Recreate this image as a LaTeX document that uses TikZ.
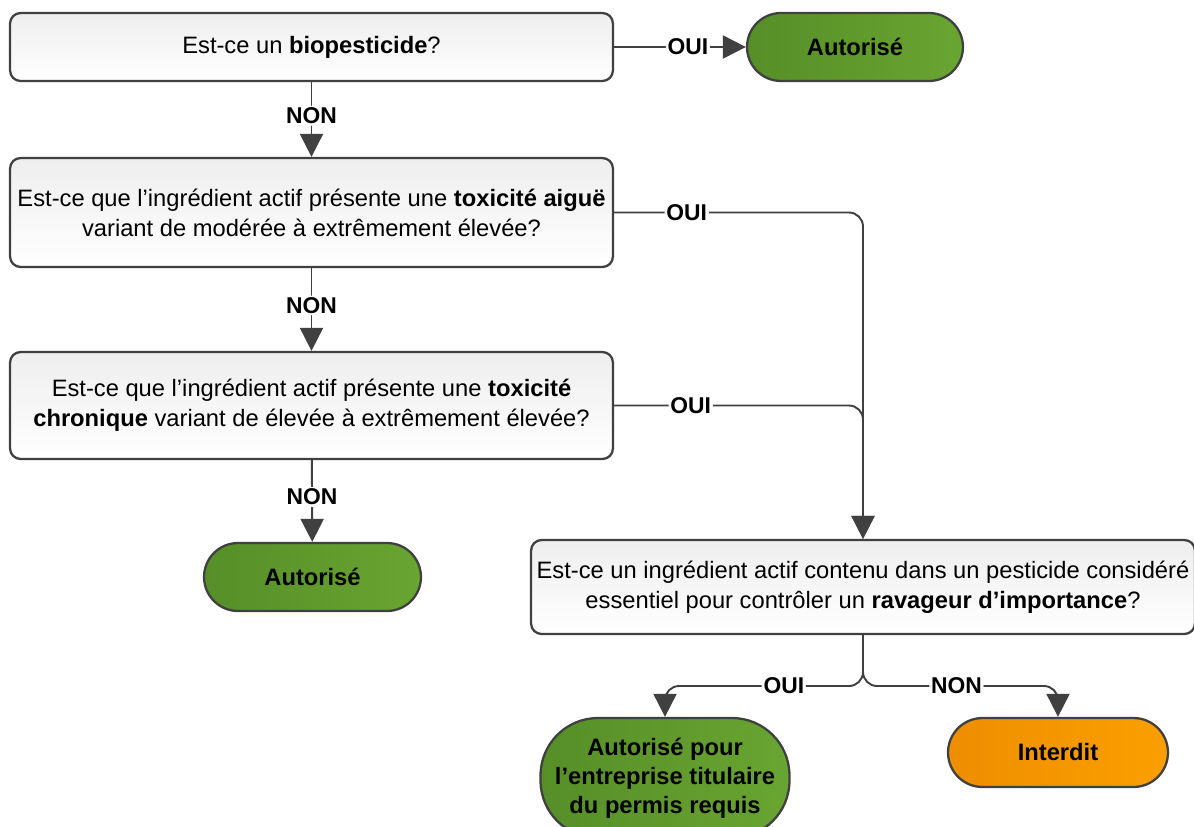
\documentclass[tikz,border=0pt]{standalone}
\usepackage{fontspec}
\setmainfont{Liberation Sans}
\usetikzlibrary{arrows.meta}

\definecolor{linegray}{HTML}{404040}
\definecolor{boxtop}{HTML}{EEEEEE}
\definecolor{okdark}{HTML}{568E28}
\definecolor{oklight}{HTML}{69A531}
\definecolor{nodark}{HTML}{EE8E00}
\definecolor{nolight}{HTML}{FB9F00}

\tikzset{
  qbox/.style={draw=linegray, line width=1.3pt, rounded corners=6pt,
    top color=boxtop, bottom color=white, align=center, inner sep=0pt,
    font=\fontsize{13.5}{17}\selectfont},
  endbox/.style={draw=linegray, line width=1.3pt, align=center, inner sep=0pt,
    font=\fontsize{13.5}{16.5}\selectfont\bfseries},
  okbox/.style={endbox, left color=okdark, right color=oklight},
  nobox/.style={endbox, left color=nodark, right color=nolight},
  conn/.style={draw=linegray, line width=1.1pt, rounded corners=8pt,
    -{Triangle[width=0.46cm,length=0.46cm]}},
  lab/.style={fill=white, font=\fontsize{13}{15}\selectfont\bfseries, inner sep=1pt}
}

\begin{document}
\begin{tikzpicture}[x=0.02cm, y=-0.02cm]
\useasboundingbox (0,0) rectangle (1194,826);

\node[qbox, minimum width=12.06cm, minimum height=1.36cm] (q1) at (311.5,47)
  {Est-ce un \textbf{biopesticide}?};
\node[qbox, minimum width=12.06cm, minimum height=2.18cm] (q2) at (311.5,212.5)
  {Est-ce que l’ingrédient actif présente une \textbf{toxicité aiguë}\\
   variant de modérée à extrêmement élevée?};
\node[qbox, minimum width=12.06cm, minimum height=2.14cm] (q3) at (311.5,405.5)
  {Est-ce que l’ingrédient actif présente une \textbf{toxicité}\\
   \textbf{chronique} variant de élevée à extrêmement élevée?};
\node[qbox, minimum width=13.28cm, minimum height=1.88cm] (q4) at (863,587)
  {Est-ce un ingrédient actif contenu dans un pesticide considéré\\
   essentiel pour contrôler un \textbf{ravageur d’importance}?};

\node[okbox, rounded corners=0.68cm, minimum width=4.32cm, minimum height=1.36cm]
  (ok1) at (855,47) {Autorisé};
\node[okbox, rounded corners=0.68cm, minimum width=4.34cm, minimum height=1.36cm]
  (ok2) at (312.5,577) {Autorisé};
\node[okbox, rounded corners=1.15cm, minimum width=4.98cm, minimum height=2.4cm]
  (ok3) at (665,778) {Autorisé pour\\ l’entreprise titulaire\\ du permis requis};
\node[nobox, rounded corners=0.69cm, minimum width=4.4cm, minimum height=1.38cm]
  (no1) at (1058,752.5) {Interdit};

\coordinate (s) at (863,686);

\draw[conn] (q1) -- node[lab, pos=0.56] {OUI} (ok1);
\draw[conn] (q1) -- node[lab, pos=0.45] {NON} (q2);
\draw[conn] (q2) -- node[lab, pos=0.45] {NON} (q3);
\draw[conn] (q3) -- node[lab, pos=0.45] {NON} (ok2);
\draw[conn] (q2.east) -| node[lab, pos=0.146] {OUI} (q4.north);
\draw[conn] (q3.east) -| node[lab, pos=0.154] {OUI} (q4.north);
\draw[conn] (q4.south) -- (s) -| node[lab, pos=0.2] {OUI} (ok3.north);
\draw[conn] (q4.south) -- (s) -| node[lab, pos=0.24] {NON} (no1.north);
\end{tikzpicture}
\end{document}
